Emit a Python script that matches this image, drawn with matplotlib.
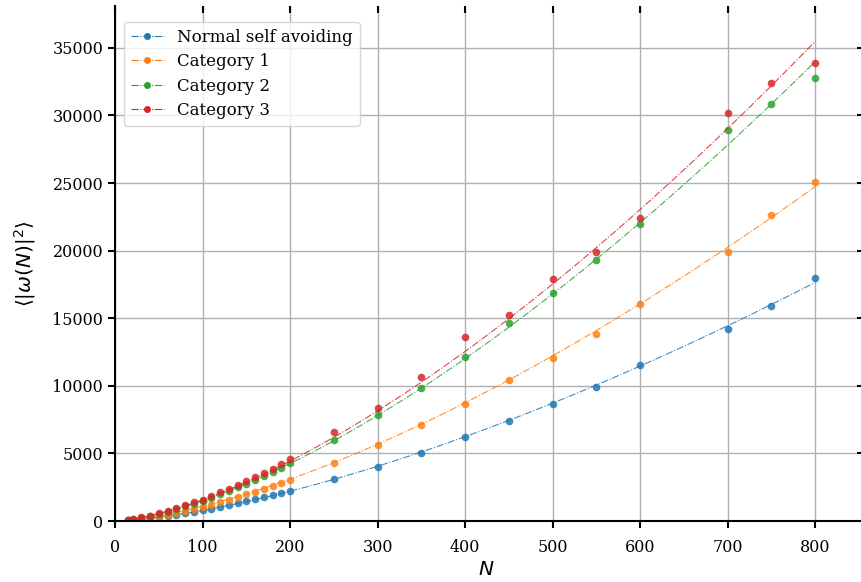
import numpy as np
import matplotlib
matplotlib.use('Agg')
import matplotlib.pyplot as plt
from matplotlib.lines import Line2D

plt.rcParams['font.family'] = 'DejaVu Serif'
plt.rcParams['mathtext.fontset'] = 'dejavusans'

# chain lengths
N = [15, 20, 30, 40, 50, 60, 70, 80, 90, 100, 110, 120, 130, 140, 150, 160, 170, 180, 190, 200,
     250, 300, 350, 400, 450, 500, 550, 600, 700, 750, 800]

# mean squared end-to-end distance per walk type
saw = [48, 73, 133, 204, 284, 373, 470, 574, 684, 800, 922, 1049, 1180, 1316, 1457, 1602, 1752,
       1905, 2062, 2225, 3085, 4020, 5055, 6240, 7400, 8635, 9915, 11520, 14210, 15930, 18005]
cat1 = [56, 86, 160, 250, 354, 467, 596, 734, 887, 1048, 1217, 1395, 1580, 1773, 1973, 2180, 2391,
        2610, 2838, 3070, 4315, 5645, 7080, 8660, 10410, 12060, 13860, 16060, 19905, 22665, 25110]
cat2 = [87, 134, 247, 381, 532, 700, 882, 1077, 1285, 1505, 1737, 1979, 2231, 2494, 2766, 3047, 3337,
        3636, 3943, 4258, 6020, 7870, 9870, 12135, 14675, 16900, 19313, 22000, 28955, 30880, 32780]
cat3 = [92, 143, 263, 407, 569, 747, 941, 1149, 1370, 1590, 1851, 2110, 2380, 2660, 2951, 3252, 3563,
        3883, 4212, 4555, 6560, 8390, 10660, 13640, 15220, 17880, 19905, 22445, 30215, 32435, 33870]

labels = ['Normal self avoiding', 'Category 1', 'Category 2', 'Category 3']
colors = ['#1f77b4', '#ff7f0e', '#2ca02c', '#d62728']

# Flory exponent for 2D walks: <R^2> ~ a N^(2 nu)
nu = 0.75

fig = plt.figure(figsize=(8.61, 5.82), dpi=100)
ax = fig.add_axes([0.1336, 0.1048, 0.8618, 0.8849])

Nv = np.array(N, dtype=float)
Nfit = np.linspace(Nv.min(), Nv.max(), 300)
handles = []
for y, lab, c in zip([saw, cat1, cat2, cat3], labels, colors):
    y = np.array(y, dtype=float)
    x = Nv ** (2 * nu)
    a = np.sum(x * y) / np.sum(x * x)  # least-squares amplitude
    ax.plot(Nfit, a * Nfit ** (2 * nu), linestyle='-.', color=c, lw=0.8, alpha=0.85)
    ax.plot(Nv, y, 'o', color=c, ms=5.5, alpha=0.85, mec='none')
    handles.append(Line2D([], [], color=c, linestyle='-.', lw=0.8, marker='o', ms=5, mec='none', label=lab))

ax.set_xlim(0, 848)
ax.set_ylim(0, 38100)
ax.set_xticks(range(0, 801, 100))
ax.set_yticks(range(0, 35001, 5000))
ax.grid(True, color='#b0b0b0', lw=1)
ax.set_axisbelow(True)

for s in ['top', 'right']:
    ax.spines[s].set_visible(False)
for s in ['left', 'bottom']:
    ax.spines[s].set_linewidth(1.5)

ax.tick_params(axis='both', which='major', direction='out', length=5, width=1.5, labelsize=11.5)
ax.tick_params(axis='y', right=True)
ax.tick_params(axis='x', top=True, direction='in', pad=13)
for t in ax.xaxis.get_major_ticks():
    t.tick1line.set_marker(3)   # bottom: outward
    t.tick2line.set_marker(3)   # top: inward

ax.set_xlabel(r'$N$', fontsize=14.5, labelpad=3)
ax.set_ylabel(r'$\langle|\omega(N)|^2\rangle$', fontsize=14.5, labelpad=10)

ax.legend(handles=handles, loc='upper left', bbox_to_anchor=(0.012, 0.969), borderaxespad=0,
          fontsize=12, handlelength=2.0, labelspacing=0.45, framealpha=0.8)

fig.savefig('out.png', dpi=100)
